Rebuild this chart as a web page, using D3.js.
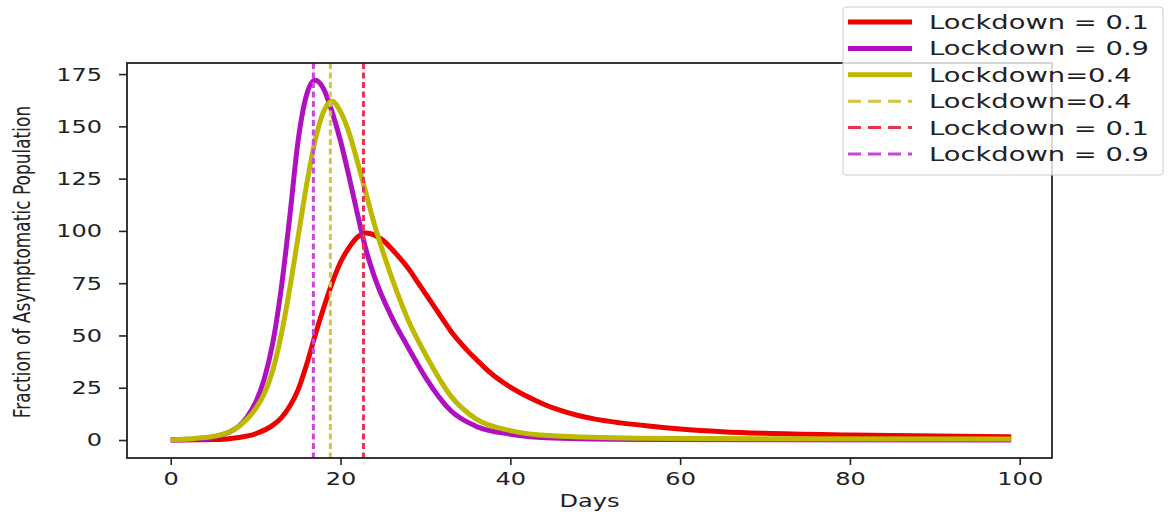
<!DOCTYPE html>
<html>
<head>
<meta charset="utf-8">
<script src="https://cdn.jsdelivr.net/npm/d3@7"></script>
<style>
  html, body { margin: 0; padding: 0; background: #fff; }
  svg { display: block; font-family: "DejaVu Sans", sans-serif; }
</style>
</head>
<body>
<svg id="chart" width="1173" height="515"></svg>
<script>
// values: [day, fraction]
const red01 = [[0,0],[5,0.2],[8,1.2],[10,3],[12,7],[13,10.5],[14,16],[15,24],[16,36],[17,50],[18,63],[19,75],
  [20,85],[21,92],[22,97],[23,99],[24,98],[25,95.5],[26,91.5],[27,87],[28,82],[29,76],[30,70],[31,64],
  [32,58],[33,52],[34,47],[35,42.5],[36,38.5],[37,34.5],[38,31],[39,28],[40,25.3],[42,20.8],[44,17],
  [46,14],[48,11.7],[50,10],[53,8.2],[56,6.8],[60,5.3],[65,4],[70,3.2],[80,2.4],[90,1.9],[99,1.6]];
const purple09 = [[0,0],[4,0.5],[6,2.5],[7,4],[8,6.5],[9,11],[10,18],[11,29],[12,46],[13,72],[14,106],
  [15,143],[16,165],[17,172],[18,168],[19,157],[20,143],[21,126],[22,108],[23,91],[24,78],[26,59],[28,44],
  [30,30],[33,14],[36,6.5],[40,2.8],[45,1],[55,0.3],[70,0.1],[99,0]];
const yellow04 = [[0,0],[3,0.8],[6,2.6],[8,6.5],[10,15],[11,22],[12,33],[13,50],[14,72],[15,97],[16,122],
  [17,143],[18,157],[19,162],[20,157],[21,147],[22,133],[23,118],[24,103],[25,90],[26,78],[27,67],[28,57],
  [30,41],[33,21],[36,10],[40,4.5],[45,2],[55,0.9],[70,0.6],[99,0.5]];
// vertical peak markers (day)
const peakDays = { red: 22.7, yellow: 18.8, purple: 16.8 };
const xTicks = [0, 20, 40, 60, 80, 100];
const yTicks = [0, 25, 50, 75, 100, 125, 150, 175];

const C = { red: '#ee0000', purple: '#b010c0', yellow: '#bdb800',
  redD: '#e8344c', yellowD: '#d4c444', purpleD: '#cc44dd' };

const legendItems = [
  { label: 'Lockdown = 0.1', color: C.red, dash: null },
  { label: 'Lockdown = 0.9', color: C.purple, dash: null },
  { label: 'Lockdown=0.4', color: C.yellow, dash: null },
  { label: 'Lockdown=0.4', color: C.yellowD, dash: '13,7' },
  { label: 'Lockdown = 0.1', color: C.redD, dash: '13,7' },
  { label: 'Lockdown = 0.9', color: C.purpleD, dash: '13,7' }
];

const SX = 1.3; // the picture is stretched horizontally
const L = 127, R = 1052, T = 63, B = 458;
const svg = d3.select('#chart');

const x = d3.scaleLinear().domain([-5.15, 103.8]).range([L, R]);
const y = d3.scaleLinear().domain([-8.6, 180.3]).range([B, T]);

svg.append('clipPath').attr('id', 'clip').append('rect')
  .attr('x', L).attr('y', T).attr('width', R - L).attr('height', B - T);
const plot = svg.append('g').attr('clip-path', 'url(#clip)');

const line = d3.line().x(d => x(d[0])).y(d => y(d[1])).curve(d3.curveMonotoneX);
[[red01, C.red], [purple09, C.purple], [yellow04, C.yellow]].forEach(([data, col]) => {
  plot.append('path').datum(data).attr('d', line)
    .attr('fill', 'none').attr('stroke', col).attr('stroke-width', 5)
    .attr('stroke-linejoin', 'round');
});

// dashed markers
[[peakDays.yellow, C.yellowD], [peakDays.red, C.redD], [peakDays.purple, C.purpleD]].forEach(([d, col]) => {
  plot.append('line').attr('x1', x(d)).attr('x2', x(d)).attr('y1', T).attr('y2', B)
    .attr('stroke', col).attr('stroke-width', 3).attr('stroke-dasharray', '6,3.5');
});

// Axes
const gx = svg.append('g').attr('transform', `translate(0,${B})`)
  .call(d3.axisBottom(x).tickValues(xTicks).tickSize(7).tickPadding(6.5));
const gy = svg.append('g').attr('transform', `translate(${L},0)`)
  .call(d3.axisLeft(y).tickValues(yTicks).tickSize(8).tickPadding(17));
[gx, gy].forEach(g => {
  g.select('.domain').remove();
  g.selectAll('.tick line').attr('stroke', '#222').attr('stroke-width', 1.6);
  g.selectAll('.tick text').attr('fill', '#222').style('font-size', '18.5px')
    .style('font-family', '"DejaVu Sans", sans-serif');
});
gx.selectAll('.tick text').attr('transform', `scale(${SX},1)`);
gy.selectAll('.tick text').attr('x', -25 / SX).attr('transform', `scale(${SX},1)`);

svg.append('rect').attr('x', L).attr('y', T).attr('width', R - L).attr('height', B - T)
  .attr('fill', 'none').attr('stroke', '#222').attr('stroke-width', 1.8);

svg.append('text').attr('transform', `translate(${(L + R) / 2},507) scale(${SX},1)`)
  .attr('text-anchor', 'middle').attr('fill', '#222').style('font-size', '18.5px').text('Days');
svg.append('text').attr('transform', `translate(30,262) scale(1.35,1) rotate(-90)`)
  .attr('text-anchor', 'middle').attr('fill', '#222').style('font-size', '17px')
  .text('Fraction of Asymptomatic Population');

// Legend
const lg = svg.append('g');
lg.append('rect').attr('x', 843).attr('y', 7).attr('width', 320).attr('height', 168)
  .attr('rx', 3).attr('fill', '#fff').attr('fill-opacity', 0.8)
  .attr('stroke', '#ccc').attr('stroke-width', 1);
legendItems.forEach((it, i) => {
  const cy = 22 + i * 26.4;
  lg.append('line').attr('x1', 848).attr('x2', 912).attr('y1', cy).attr('y2', cy)
    .attr('stroke', it.color).attr('stroke-width', it.dash ? 3 : 5)
    .attr('stroke-dasharray', it.dash);
  lg.append('text').attr('transform', `translate(929,${cy + 7}) scale(1.44,1)`)
    .attr('fill', '#222').style('font-size', '19px').text(it.label);
});
</script>
</body>
</html>
